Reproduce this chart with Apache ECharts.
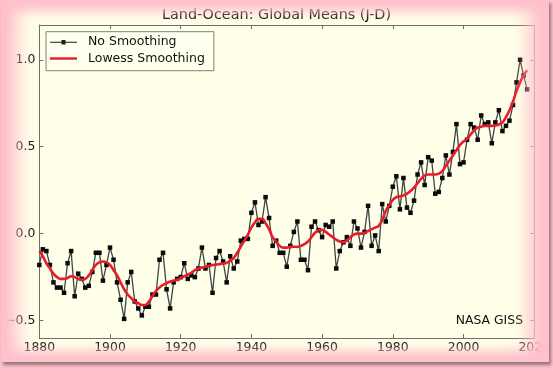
<!DOCTYPE html>
<html>
<head>
<meta charset="utf-8">
<script src="https://cdn.jsdelivr.net/npm/echarts@6/dist/echarts.min.js"></script>
<style>
html,body{margin:0;padding:0;width:553px;height:371px;overflow:hidden;background:#ffc1cb;}
#card{position:absolute;left:1px;top:0px;width:548px;height:362px;background:#fffee8;box-shadow:2px 3px 3px rgba(60,60,60,0.55);}
#chart{position:absolute;left:0;top:0;width:553px;height:371px;}
#glow{position:absolute;left:1px;top:0px;width:548px;height:362px;box-shadow:inset 14px 0 18px 2px #ffc1cb, inset -16px 0 18px 4px #ffc1cb, inset 0 6px 12px 2px #ffc1cb, inset 0 -6px 12px 2px #ffc1cb;pointer-events:none;}
</style>
</head>
<body>
<div id="card"></div>
<div id="chart"></div>
<div id="glow"></div>
<script>
const titleText = 'Land-Ocean: Global Means (J-D)';
const seriesNames = ['No Smoothing', 'Lowess Smoothing'];
const creditText = 'NASA GISS';
const firstYear = 1880;
const noSmoothing = [
-0.18,-0.09,-0.10,-0.18,-0.28,-0.31,-0.31,-0.34,-0.17,-0.10,
-0.36,-0.23,-0.26,-0.31,-0.30,-0.22,-0.11,-0.11,-0.27,-0.18,
-0.08,-0.15,-0.28,-0.38,-0.49,-0.28,-0.22,-0.39,-0.43,-0.47,
-0.42,-0.42,-0.35,-0.35,-0.15,-0.11,-0.32,-0.43,-0.28,-0.26,
-0.25,-0.17,-0.26,-0.24,-0.25,-0.20,-0.08,-0.20,-0.18,-0.34,
-0.14,-0.10,-0.16,-0.28,-0.13,-0.20,-0.16,-0.04,-0.03,-0.03,
0.12,0.18,0.05,0.07,0.21,0.09,-0.07,-0.04,-0.11,-0.11,
-0.19,-0.07,0.01,0.07,-0.15,-0.15,-0.21,0.04,0.07,0.02,
-0.02,0.05,0.04,0.07,-0.20,-0.10,-0.05,-0.02,-0.07,0.07,
0.03,-0.08,0.01,0.16,-0.07,-0.01,-0.10,0.17,0.07,0.16,
0.27,0.33,0.14,0.32,0.15,0.12,0.19,0.34,0.41,0.28,
0.44,0.42,0.23,0.24,0.32,0.45,0.34,0.47,0.63,0.40,
0.41,0.54,0.63,0.61,0.54,0.68,0.63,0.64,0.52,0.64,
0.71,0.59,0.62,0.65,0.74,0.87,1.00,0.91,0.83
];
const lowess = [
-0.10,-0.13,-0.17,-0.20,-0.23,-0.25,-0.26,-0.26,-0.255,-0.245,
-0.25,-0.26,-0.265,-0.26,-0.24,-0.21,-0.18,-0.165,-0.16,-0.165,
-0.18,-0.21,-0.24,-0.28,-0.32,-0.35,-0.37,-0.39,-0.40,-0.41,
-0.41,-0.39,-0.36,-0.33,-0.31,-0.295,-0.285,-0.275,-0.27,-0.265,
-0.255,-0.245,-0.235,-0.225,-0.21,-0.20,-0.195,-0.19,-0.185,-0.18,
-0.178,-0.175,-0.172,-0.168,-0.155,-0.14,-0.11,-0.075,-0.04,-0.005,
0.035,0.065,0.085,0.085,0.06,0.025,-0.02,-0.045,-0.07,-0.08,
-0.08,-0.076,-0.075,-0.076,-0.07,-0.06,-0.045,-0.02,0.005,0.02,
0.022,0.01,-0.005,-0.02,-0.035,-0.045,-0.05,-0.04,-0.02,-0.005,
0.0,0.0,0.005,0.015,0.025,0.035,0.045,0.08,0.13,0.165,
0.195,0.21,0.215,0.22,0.23,0.245,0.265,0.29,0.315,0.335,
0.34,0.34,0.34,0.345,0.36,0.39,0.42,0.45,0.48,0.51,
0.53,0.545,0.57,0.595,0.61,0.615,0.62,0.62,0.62,0.622,
0.628,0.64,0.67,0.71,0.76,0.82,0.87,0.91,0.94
];
const xTicks = [1880,1900,1920,1940,1960,1980,2000,2020];
const yTicks = [-0.5,0.0,0.5,1.0];
const xRange = [1880, 2020];
const yRange = [-0.6, 1.2];

const rawPts = noSmoothing.map((v,i)=>[firstYear+i, v]);
const lowPts = lowess.map((v,i)=>[firstYear+i, v]);

const FONT = 'DejaVu Sans';
const frame = '#6a7268';
const fmtY = v => v.toFixed(1).replace('-', '\u2212');

const iconMarkerLine = 'path://M0,6.5L27,6.5L27,7.5L0,7.5Z M11.5,4.75L15.5,4.75L15.5,9.25L11.5,9.25Z';
const iconThickLine = 'path://M0,5.8L27,5.8L27,8.2L0,8.2Z';

const chart = echarts.init(document.getElementById('chart'), null, {renderer:'canvas'});
chart.setOption({
  backgroundColor:'transparent',
  animation:false,
  title:{
    text:titleText, left:'center', top:8, padding:0,
    textStyle:{fontFamily:FONT,fontSize:14.4,fontWeight:'normal',color:'#111'}
  },
  legend:{
    orient:'vertical', left:46, top:31.7,
    data:[
      {name:seriesNames[0], icon:iconMarkerLine, itemStyle:{color:'#1a1f1a'}},
      {name:seriesNames[1], icon:iconThickLine, itemStyle:{color:'#e81c2a'}}
    ],
    itemWidth:27, itemHeight:14, itemGap:3.3,
    padding:[4,9,5.7,4],
    backgroundColor:'rgba(255,255,238,0.9)',
    borderColor:'#7d837a', borderWidth:1,
    textStyle:{fontFamily:FONT,fontSize:12.5,color:'#111',padding:[0,0,0,6]}
  },
  grid:{left:39.3,right:13,top:25,bottom:33,containLabel:false},
  xAxis:[
    {type:'value',position:'bottom',min:xRange[0],max:xRange[1],interval:20,
     axisLine:{show:true,onZero:false,lineStyle:{color:frame}},
     axisTick:{show:true,inside:true,length:4,lineStyle:{color:frame},customValues:xTicks},
     axisLabel:{fontFamily:FONT,fontSize:12.4,color:'#111',margin:4,customValues:xTicks,formatter:v=>String(v)},
     splitLine:{show:false}},
    {type:'value',position:'top',min:xRange[0],max:xRange[1],interval:20,
     axisLine:{show:true,onZero:false,lineStyle:{color:frame}},
     axisTick:{show:true,inside:true,length:4,lineStyle:{color:frame},customValues:xTicks},
     axisLabel:{show:false},splitLine:{show:false}}
  ],
  yAxis:[
    {type:'value',position:'left',min:yRange[0],max:yRange[1],
     axisLine:{show:true,onZero:false,lineStyle:{color:frame}},
     axisTick:{show:true,inside:true,length:4,lineStyle:{color:frame},customValues:yTicks},
     axisLabel:{fontFamily:FONT,fontSize:12.4,color:'#111',margin:4,customValues:yTicks,formatter:fmtY},
     splitLine:{show:false}},
    {type:'value',position:'right',min:yRange[0],max:yRange[1],
     axisLine:{show:true,onZero:false,lineStyle:{color:frame}},
     axisTick:{show:true,inside:true,length:4,lineStyle:{color:frame},customValues:yTicks},
     axisLabel:{show:false},splitLine:{show:false}}
  ],
  graphic:[{
    type:'text', right:30, top:315,
    style:{text:creditText,font:'12.4px "DejaVu Sans"',fill:'#111'}
  }],
  series:[
    {name:seriesNames[0],type:'line',data:rawPts,xAxisIndex:0,yAxisIndex:0,
     smooth:false,symbol:'none',showSymbol:false,
     itemStyle:{color:'#3a463e'},
     lineStyle:{color:'#3a463e',width:1.3},z:2},
    {name:seriesNames[0],type:'scatter',data:rawPts,xAxisIndex:0,yAxisIndex:0,
     symbol:'rect',symbolSize:4.5,
     itemStyle:{color:'#0a0a0a',opacity:1},z:3},
    {name:seriesNames[1],type:'line',data:lowPts,xAxisIndex:0,yAxisIndex:0,
     smooth:true,symbol:'none',showSymbol:false,
     itemStyle:{color:'#e81c2a'},
     lineStyle:{color:'#e81c2a',width:2.6},z:4}
  ]
});
</script>
</body>
</html>
